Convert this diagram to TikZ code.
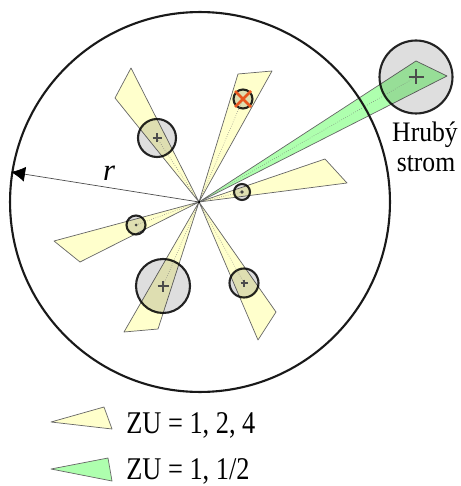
\documentclass[tikz,border=0pt]{standalone}
\usepackage{fontspec}
\usepackage{graphicx}
\setmainfont{Liberation Serif}
\usetikzlibrary{arrows.meta}

\definecolor{wedgeyellow}{HTML}{FFFFCC}
\definecolor{wedgegreen}{HTML}{AEFFAE}
\definecolor{crownfill}{HTML}{DEDEDE}
\definecolor{crossred}{HTML}{E8561E}

\begin{document}
\begin{tikzpicture}[
        x=0.02cm, y=-0.02cm,
        wedge/.style={draw=black!60, line width=0.4pt, fill=wedgeyellow, line join=round},
        greenwedge/.style={wedge, fill=wedgegreen},
        axis/.style={draw=black!55, line width=0.3pt, densely dotted},
        limit/.style={circle, draw=black!90, line width=1.2pt, minimum size=7.6cm, inner sep=0pt, outer sep=0pt},
        crown/.style={circle, draw=black!85, line width=1.2pt, fill=crownfill, inner sep=0pt, outer sep=0pt, blend mode=multiply},
        cross/.style={draw=black!70, line width=0.8pt},
        label/.style={font=\fontsize{14.6}{16}\selectfont, inner sep=0pt, anchor=base},
        legend/.style={font=\fontsize{15}{16}\selectfont, inner sep=0pt, anchor=base west}
    ]
        \useasboundingbox (0,0) rectangle (460,486);
        \coordinate (apex) at (199,202);

        % Wedges
        \draw[wedge] (apex) -- (131,68) -- (115,98) -- cycle;
        \draw[wedge] (apex) -- (238,74) -- (272,71) -- cycle;
        \draw[wedge] (apex) -- (325,159) -- (347,183) -- cycle;
        \draw[wedge] (apex) -- (54,241) -- (80,262) -- cycle;
        \draw[wedge] (apex) -- (124,332) -- (158,329) -- cycle;
        \draw[wedge] (apex) -- (276,312) -- (258,340) -- cycle;
        \draw[greenwedge] (apex) -- (416,61) -- (447,76) -- cycle;

        % Plot boundary
        \node[limit] (plot) at (200,202) {};

        % Crowns
        \node[crown, minimum size=0.76cm] (crownA) at (157,138) {};
        \node[crown, minimum size=0.38cm] (crownB) at (243,99) {};
        \node[crown, minimum size=0.32cm] (crownC) at (242,192) {};
        \node[crown, minimum size=0.38cm] (crownD) at (136,225) {};
        \node[crown, minimum size=1.08cm] (crownE) at (163,286) {};
        \node[crown, minimum size=0.58cm] (crownF) at (244,283) {};
        \node[crown, minimum size=1.46cm] (crownG) at (416,77) {};

        % Axes of the wedges
        \draw[axis] (apex) -- (crownA.center);
        \draw[axis] (apex) -- (crownB.center);
        \draw[axis] (apex) -- (crownC.center);
        \draw[axis] (apex) -- (crownD.center);
        \draw[axis] (apex) -- (crownE.center);
        \draw[axis] (apex) -- (crownF.center);
        \draw[axis] (apex) -- (crownG.center);

        % Marks in the crowns
        \draw[cross] (crownA.center) +(-4.5,0) -- +(4.5,0) +(0,-4.5) -- +(0,4.5);
        \draw[cross] (crownE.center) +(-5.5,0) -- +(5.5,0) +(0,-5.5) -- +(0,5.5);
        \draw[cross] (crownF.center) +(-3.5,0) -- +(3.5,0) +(0,-3.5) -- +(0,3.5);
        \draw[cross] (crownG.center) +(-7.5,0) -- +(7.5,0) +(0,-7.5) -- +(0,7.5);
        \fill[black!75] (crownC.center) circle[radius=1.8];
        \fill[black!75] (crownD.center) circle[radius=1.5];
        \draw[crossred, line width=1.6pt] (crownB.center) +(-8,-8) -- +(8,8) +(-8,8) -- +(8,-8);
        \fill[black] (apex) circle[radius=1.4];

        % Radius
        \coordinate (rim) at (11,172);
        \draw[black!70, line width=0.4pt, -{Latex[black, length=8pt, width=8.5pt]}] (apex) -- (rim);
        \node[label, font=\fontsize{17.5}{18}\selectfont\itshape] (radius) at (109,180) {r};

        % Labels
        \node[label] (rough) at (425,142) {\scalebox{1}[1.1]{Hrubý}};
        \node[label] (strom) at (426,172) {\scalebox{1}[1.1]{strom}};

        % Legend
        \draw[wedge] (51,422) -- (104,407) -- (112,429) -- cycle;
        \draw[greenwedge] (51,469) -- (108,458) -- (112,481) -- cycle;
        \node[legend] (legendA) at (126,433) {\scalebox{1}[1.2]{ZU = 1, 2, 4}};
        \node[legend] (legendB) at (126,479) {\scalebox{1}[1.2]{ZU = 1, 1/2}};
    \end{tikzpicture}
\end{document}
